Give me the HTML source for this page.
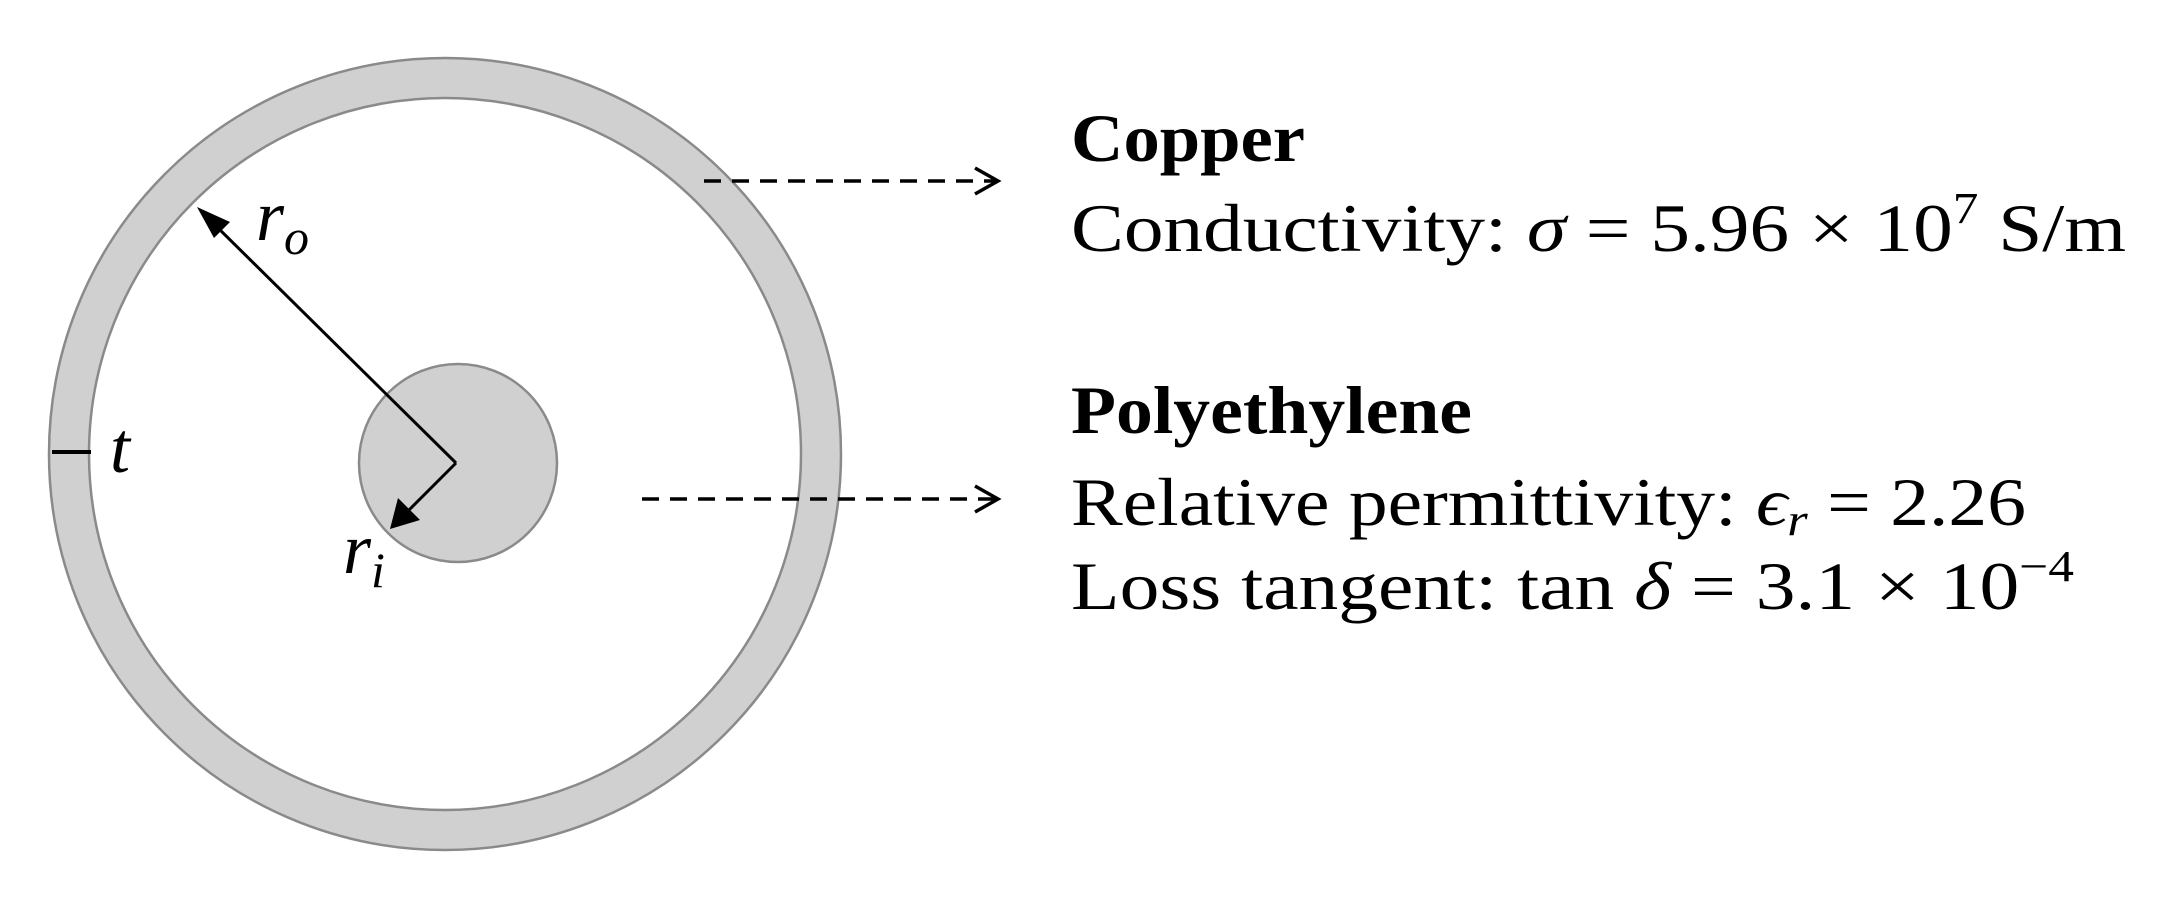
<!DOCTYPE html>
<html><head><meta charset="utf-8"><style>html,body{margin:0;padding:0;background:#fff}svg{display:block}</style></head>
<body>
<svg width="2166" height="901" viewBox="0 0 2166 901" xmlns="http://www.w3.org/2000/svg">
<!-- outer ring -->
<circle cx="445" cy="454" r="376" fill="none" stroke="#d0d0d0" stroke-width="40"/>
<circle cx="445" cy="454" r="396" fill="none" stroke="#8a8a8a" stroke-width="2.5"/>
<circle cx="445" cy="454" r="356" fill="none" stroke="#8a8a8a" stroke-width="2.5"/>
<!-- inner conductor -->
<circle cx="458" cy="463" r="99" fill="#d0d0d0" stroke="#8a8a8a" stroke-width="2.5"/>
<!-- r_o arrow -->
<line x1="456" y1="463" x2="214" y2="224" stroke="#000" stroke-width="3"/>
<polygon points="197,207 230,222 214,238" fill="#000"/>
<!-- r_i arrow -->
<line x1="456" y1="463" x2="403" y2="516" stroke="#000" stroke-width="3"/>
<polygon points="390,529 398,498 420,520" fill="#000"/>
<!-- t tick -->
<line x1="52" y1="452" x2="91" y2="452" stroke="#000" stroke-width="4"/>
<g font-family="'Liberation Serif', serif" font-style="italic" font-size="72">
<text x="256" y="240">r<tspan font-size="50" dy="14">o</tspan></text>
<text x="343" y="573">r<tspan font-size="50" dy="14">i</tspan></text>
<text x="110" y="472">t</text>
</g>
<!-- dashed arrows -->
<line x1="704" y1="181" x2="995" y2="181" stroke="#000" stroke-width="3.5" stroke-dasharray="17,11"/>
<polyline points="975,168 998,181 975,194" fill="none" stroke="#000" stroke-width="3.5"/>
<line x1="642" y1="499" x2="995" y2="499" stroke="#000" stroke-width="3.5" stroke-dasharray="17,11"/>
<polyline points="975,486 998,499 975,512" fill="none" stroke="#000" stroke-width="3.5"/>
<!-- text -->
<g font-family="'Liberation Serif', serif" font-size="68" fill="#000">
<text x="1071" y="161" font-weight="bold" textLength="234" lengthAdjust="spacingAndGlyphs">Copper</text>
<text x="1071" y="251" textLength="1055" lengthAdjust="spacingAndGlyphs">Conductivity: <tspan font-style="italic">σ</tspan> = 5.96 × 10<tspan font-size="44" dy="-28">7</tspan><tspan dy="28"> S/m</tspan></text>
<text x="1071" y="433" font-weight="bold" textLength="401" lengthAdjust="spacingAndGlyphs">Polyethylene</text>
<text x="1071" y="525" textLength="955" lengthAdjust="spacingAndGlyphs">Relative permittivity: <tspan font-style="italic">ϵ</tspan><tspan font-style="italic" font-size="46" dy="10">r</tspan><tspan dy="-10"> = 2.26</tspan></text>
<text x="1071" y="609" textLength="1003" lengthAdjust="spacingAndGlyphs">Loss tangent: tan <tspan font-style="italic">δ</tspan> = 3.1 × 10<tspan font-size="44" dy="-28">−4</tspan></text>
</g>
</svg>
</body></html>
